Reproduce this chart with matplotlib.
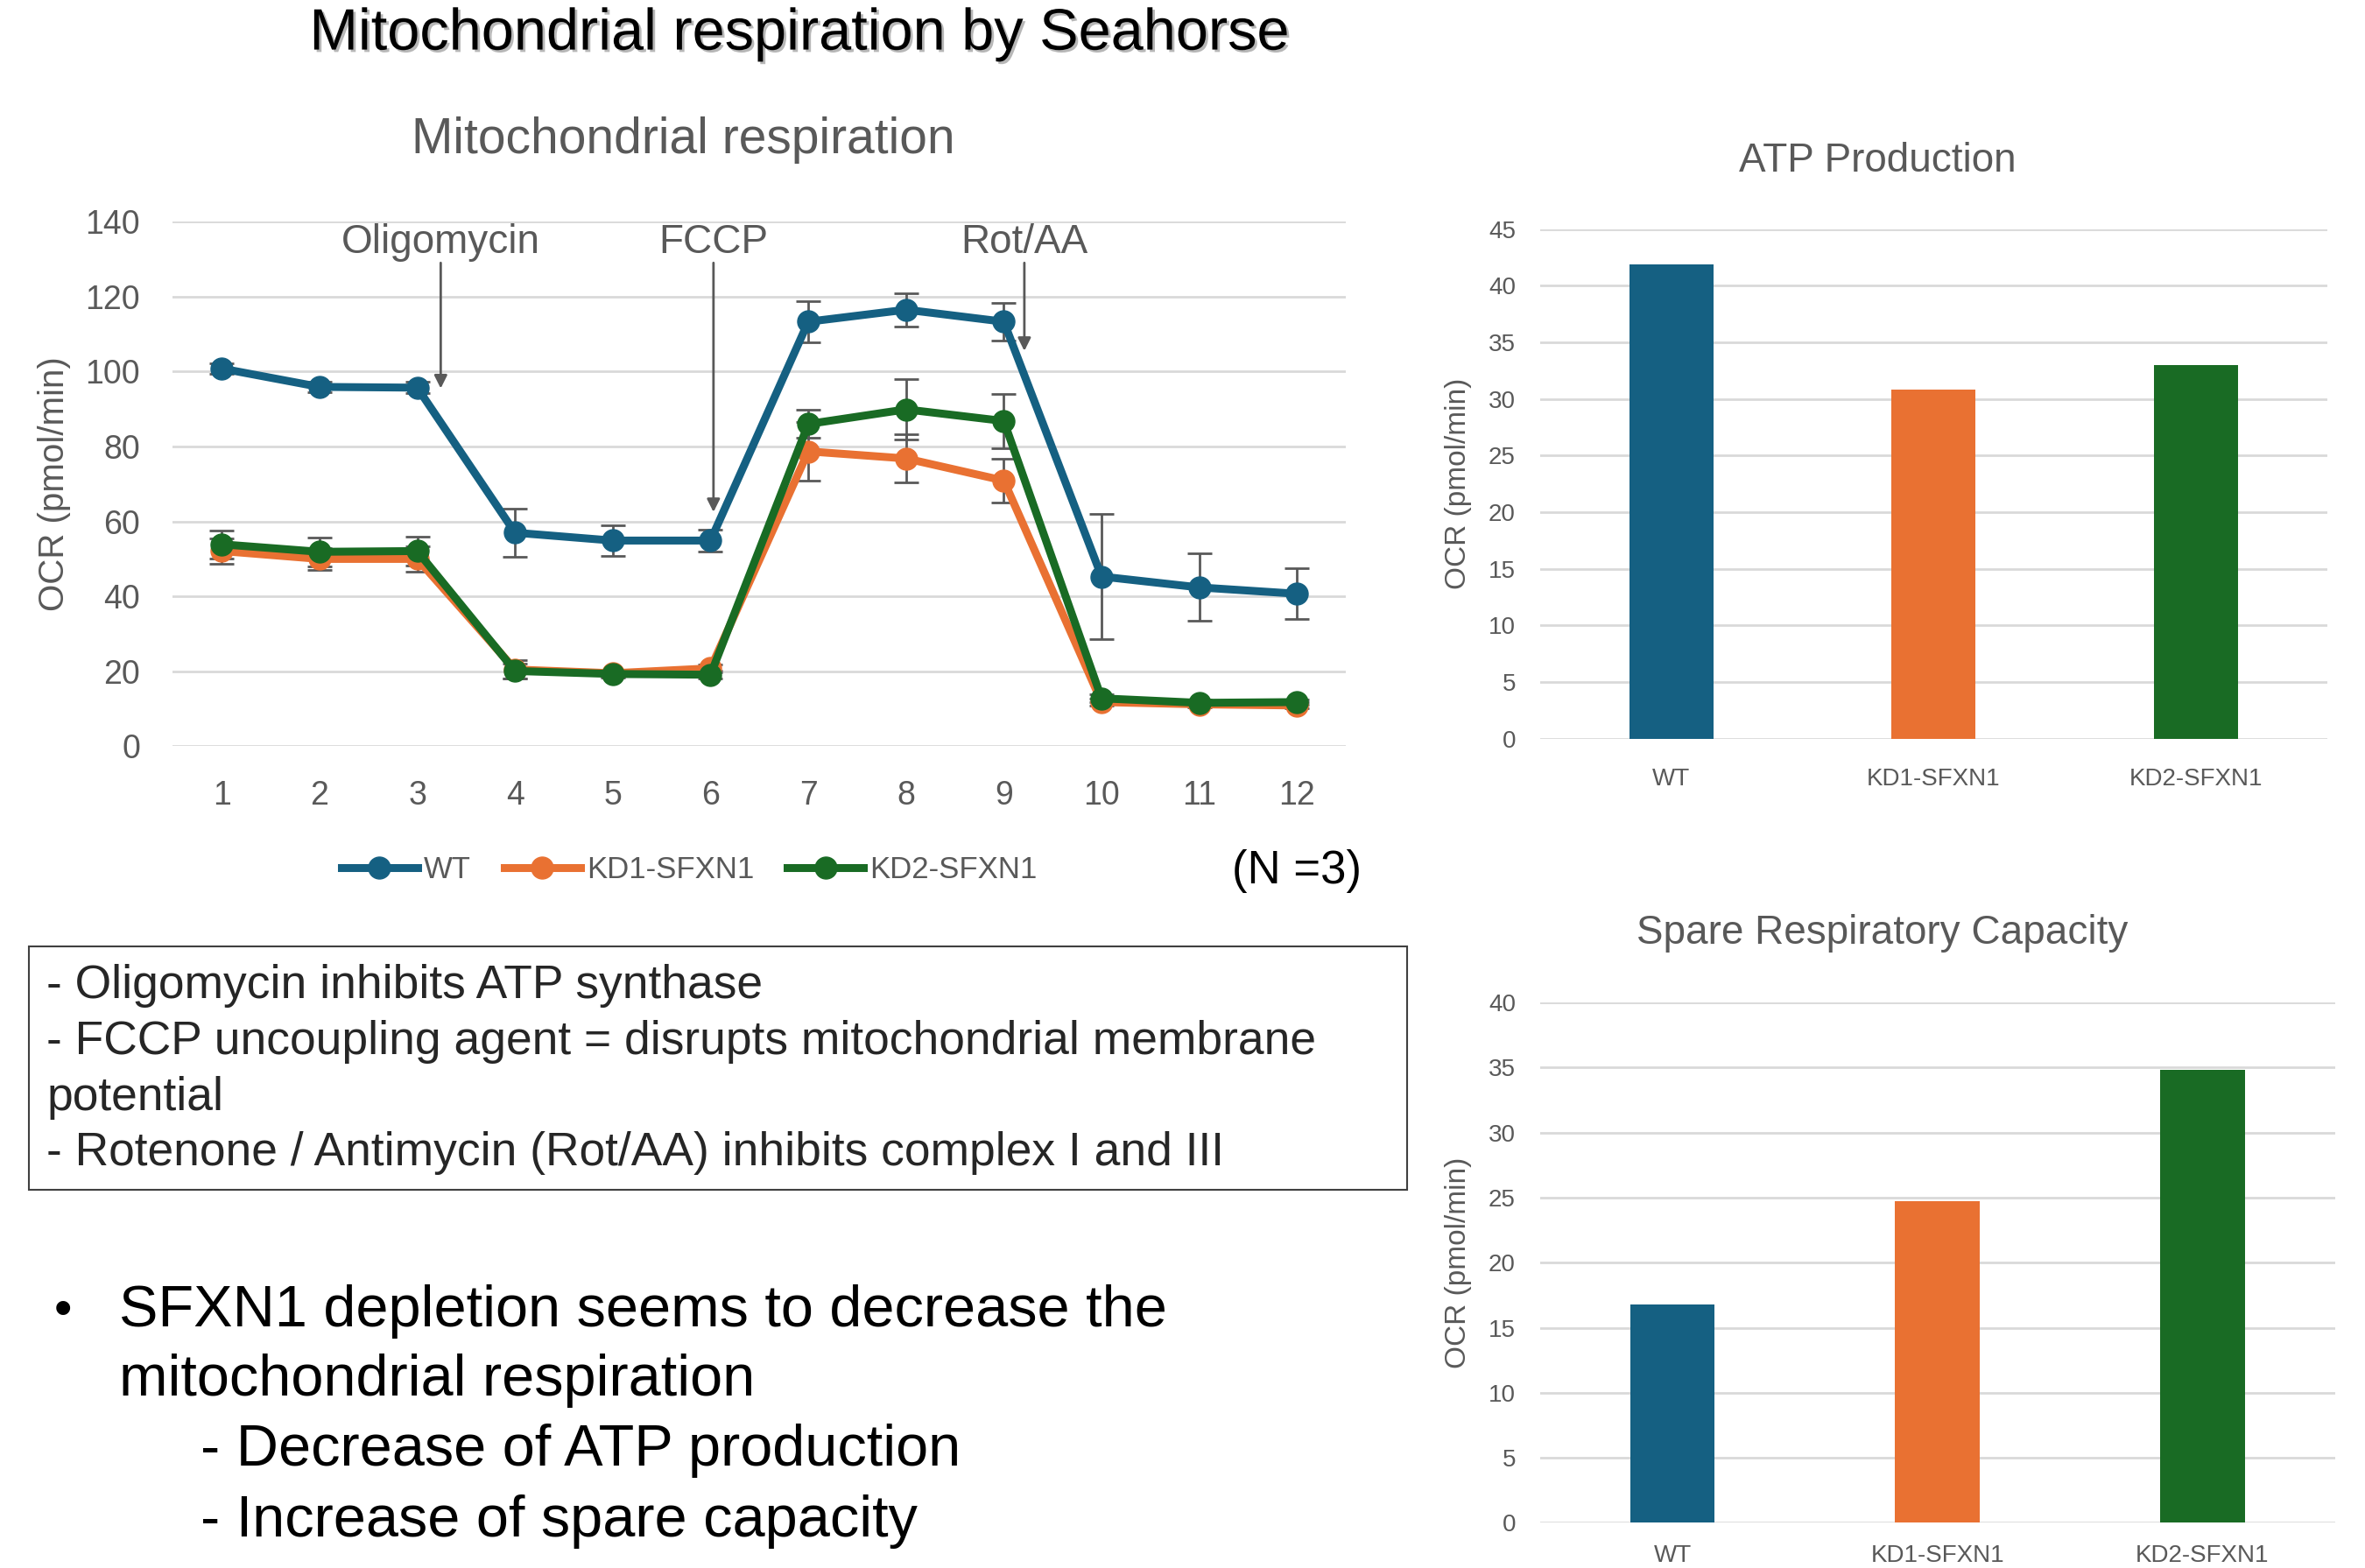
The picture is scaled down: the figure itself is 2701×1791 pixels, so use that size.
import matplotlib
matplotlib.use("Agg")
import matplotlib.pyplot as plt
import matplotlib.patheffects as pe
from matplotlib.patches import Rectangle
from matplotlib import font_manager

# ---------------- data ----------------
cycles = [1, 2, 3, 4, 5, 6, 7, 8, 9, 10, 11, 12]
wt_ocr = [100.8, 95.9, 95.7, 57.0, 54.9, 54.9, 113.3, 116.5, 113.3, 45.3, 42.4, 40.7]
wt_err = [1.5, 1.5, 1.5, 6.5, 4.0, 3.0, 5.5, 4.4, 5.0, 16.7, 9.0, 6.8]
kd1_ocr = [52.1, 50.0, 50.0, 20.5, 19.5, 20.8, 78.7, 76.8, 70.9, 11.8, 11.2, 10.9]
kd1_err = [3.3, 3.0, 3.4, 2.5, 1.0, 1.0, 7.8, 6.4, 5.8, 1.0, 0.8, 0.8]
kd2_ocr = [53.9, 51.9, 52.1, 20.1, 19.3, 19.1, 86.0, 89.9, 86.8, 12.8, 11.6, 11.8]
kd2_err = [3.7, 3.9, 3.9, 2.0, 1.0, 1.0, 3.7, 8.1, 7.3, 1.0, 0.8, 0.8]

groups = ["WT", "KD1-SFXN1", "KD2-SFXN1"]
atp_production = [41.9, 30.8, 33.0]
spare_capacity = [16.8, 24.7, 34.8]

injections = ["Oligomycin", "FCCP", "Rot/AA"]
injection_x = [3.24, 6.03, 9.21]
injection_tip = [95.5, 62.5, 105.5]

colors = ["#156082", "#E97132", "#196B24"]
GREY = "#595959"
GRID = "#D9D9D9"

available = {f.name for f in font_manager.fontManager.ttflist}
narrow = "Liberation Sans Narrow" if "Liberation Sans Narrow" in available else "Liberation Sans"
sans = "Liberation Sans"

plt.rcParams["font.family"] = [sans, "DejaVu Sans"]

fig = plt.figure(figsize=(27.01, 17.91), dpi=100)
fig.patch.set_facecolor("white")

W, H = 1568.0, 1040.0


def fx(px):
    return px / W


def fy(py):
    return 1 - py / H


# ---------------- headline ----------------
fig.text(fx(530), fy(23), "Mitochondrial respiration by Seahorse", ha="center", va="center",
         fontsize=48, color="black", family=sans,
         path_effects=[pe.withSimplePatchShadow(offset=(2, -2), shadow_rgbFace="#888888", alpha=0.6)])

# ---------------- line chart ----------------
ax = fig.add_axes([fx(114.6), fy(495), fx(892.4) - fx(114.6), fy(147) - fy(495)])
ax.set_xlim(0.5, 12.5)
ax.set_ylim(0, 140)
ax.set_yticks(range(0, 141, 20))
ax.set_xticks(cycles)
ax.grid(axis="y", color=GRID, linewidth=2)
ax.set_axisbelow(True)
for s in ax.spines.values():
    s.set_visible(False)
ax.tick_params(length=0, labelsize=27, colors=GREY)
ax.tick_params(axis="y", pad=27)
ax.tick_params(axis="x", pad=28)
ax.set_ylabel("OCR (pmol/min)", fontsize=29, color=GREY, labelpad=12)

series = [("WT", wt_ocr, wt_err), ("KD1-SFXN1", kd1_ocr, kd1_err), ("KD2-SFXN1", kd2_ocr, kd2_err)]
handles = []
for (name, vals, err), c in zip(series, colors):
    ax.errorbar(cycles, vals, yerr=err, fmt="none", ecolor=GREY, elinewidth=2, capsize=10,
                capthick=2, zorder=2)
    h, = ax.plot(cycles, vals, color=c, linewidth=6.5, marker="o", markersize=18,
                 label=name, zorder=3, solid_joinstyle="round")
    handles.append(h)

for name, xi, tip in zip(injections, injection_x, injection_tip):
    ax.text(xi, 134.5, name, ha="center", va="center", fontsize=33, color=GREY)
    ax.annotate("", xy=(xi, tip), xytext=(xi, 129),
                arrowprops=dict(arrowstyle="-|>", color=GREY, lw=2, mutation_scale=22,
                                shrinkA=0, shrinkB=0))

fig.text(fx(453), fy(93), "Mitochondrial respiration", ha="center", va="center",
         fontsize=41, color=GREY)

leg = fig.legend(handles=handles, loc="center", bbox_to_anchor=(fx(457), fy(577)), ncol=3,
                 frameon=False, fontsize=25, handlelength=2.5, columnspacing=1.1,
                 handletextpad=0.2, markerscale=1.0)
for t in leg.get_texts():
    t.set_color(GREY)

fig.text(fx(860), fy(578), "(N =3)", ha="center", va="center", fontsize=38, color="black")

# ---------------- explanation box ----------------
fig.patches.append(Rectangle((fx(19), fy(789)), fx(933) - fx(19), fy(628) - fy(789),
                             transform=fig.transFigure, fill=False, edgecolor="#404040",
                             linewidth=1.5))
box_lines = ["- Oligomycin inhibits ATP synthase",
             "- FCCP uncoupling agent = disrupts mitochondrial membrane",
             "potential",
             "- Rotenone / Antimycin (Rot/AA) inhibits complex I and III"]
for i, line in enumerate(box_lines):
    fig.text(fx(31), fy(654 + 37 * i), line, ha="left", va="center", fontsize=38.4, color="#262626")

# ---------------- conclusion bullets ----------------
fig.text(fx(42), fy(870), "\u2022", ha="center", va="center", fontsize=42, color="black")
fig.text(fx(79), fy(870), "SFXN1 depletion seems to decrease the", ha="left", va="center",
         fontsize=48, color="black")
fig.text(fx(79), fy(916), "mitochondrial respiration", ha="left", va="center",
         fontsize=48, color="black")
fig.text(fx(133), fy(962), "- Decrease of ATP production", ha="left", va="center",
         fontsize=48, color="black")
fig.text(fx(133), fy(1009), "- Increase of spare capacity", ha="left", va="center",
         fontsize=48, color="black")


# ---------------- bar charts ----------------
def bar_panel(rect, values, ymax, title, title_xy, xpad):
    bx = fig.add_axes(rect)
    xs = range(len(groups))
    bx.bar(xs, values, width=0.32, color=colors, zorder=3)
    bx.set_xlim(-0.5, 2.5)
    bx.set_ylim(0, ymax)
    bx.set_yticks(range(0, ymax + 1, 5))
    bx.set_xticks(list(xs))
    bx.set_xticklabels(groups, family=[narrow, "DejaVu Sans"])
    for lab in bx.get_yticklabels():
        lab.set_family([narrow, "DejaVu Sans"])
    bx.grid(axis="y", color=GRID, linewidth=2)
    bx.set_axisbelow(True)
    for s in bx.spines.values():
        s.set_visible(False)
    bx.tick_params(length=0, labelsize=20, colors=GREY, pad=20)
    bx.tick_params(axis="x", pad=xpad)
    bx.set_ylabel("OCR (pmol/min)", fontsize=24, color=GREY, labelpad=14)
    fig.text(fx(title_xy[0]), fy(title_xy[1]), title, ha="center", va="center",
             fontsize=33, color=GREY, family=[narrow, "DejaVu Sans"])
    return bx


bar_panel([fx(1021), fy(490), fx(1543) - fx(1021), fy(152) - fy(490)],
          atp_production, 45, "ATP Production", (1245, 107), 24)
bar_panel([fx(1021), fy(1010), fx(1548) - fx(1021), fy(665) - fy(1010)],
          spare_capacity, 40, "Spare Respiratory Capacity", (1248, 619), 18)

fig.savefig("out.png", dpi=100, facecolor="white")
